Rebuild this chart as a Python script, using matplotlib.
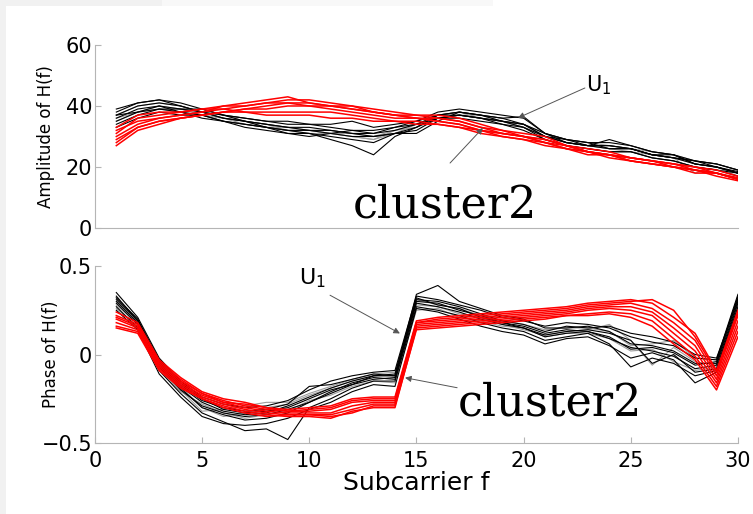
import numpy as np
import matplotlib
matplotlib.use('Agg')
import matplotlib.pyplot as plt
from matplotlib import patches

plt.rcParams.update({
    'font.family': 'DejaVu Sans',
    'axes.linewidth': 0.8,
    'xtick.direction': 'in',
    'ytick.direction': 'in',
})

subcarrier = list(range(1, 31))

# amplitude, cluster 1 (black)
amp_black = [
    [38, 41, 42, 41, 39, 37, 36, 35, 34, 34, 33, 32, 31, 33, 35, 38, 39, 38, 37, 36, 31, 29, 28, 28, 27, 25, 24, 22, 21, 19],
    [35, 38, 40, 38, 37, 35, 34, 33, 32, 31, 30, 29, 28, 31, 33, 37, 38, 37, 35, 34, 30, 28, 27, 26, 26, 24, 23, 21, 20, 18],
    [37, 40, 41, 40, 38, 37, 36, 35, 35, 34, 34, 35, 33, 34, 35, 37, 37, 36, 35, 33, 30, 28, 27, 29, 27, 25, 24, 21, 20, 18],
    [34, 37, 39, 38, 36, 35, 34, 33, 31, 31, 29, 27, 24, 30, 33, 36, 37, 36, 34, 33, 29, 27, 26, 25, 25, 23, 22, 20, 19, 17],
    [36, 39, 40, 39, 38, 36, 35, 34, 33, 32, 32, 31, 31, 32, 34, 37, 38, 37, 36, 36.5, 31, 28, 27, 27, 26, 24, 24, 21, 20, 18.5],
    [39, 41, 42, 40, 38, 36, 35, 33, 32, 32, 31, 30, 30, 31, 32, 36, 37, 36, 35, 34, 30, 29, 28, 26, 26, 24, 23, 22, 21, 19],
    [33, 36, 38, 37, 37, 35, 33, 32, 31, 30, 31, 32, 32, 33, 34, 36, 36, 35, 34, 32, 29, 27, 26, 25, 25, 23, 22, 20, 19, 18],
    [37, 38, 39, 39, 39, 37, 35, 34, 33, 33, 32, 31, 30, 31, 31, 35, 38, 37, 36, 34, 31, 29, 27, 27, 26, 24, 23, 22, 20, 18],
]
amp_gray = [
    [35, 38, 40, 39, 37, 36, 34, 33, 32, 31, 31, 30, 29, 31, 34, 36, 37, 37, 35, 33, 30, 28, 27, 26, 25, 24, 23, 18, 20, 17],
    [37, 40, 41, 40, 38, 37, 35, 34, 32, 32, 31, 30, 29, 32, 33, 37, 38, 36, 35, 34, 31, 29, 28, 27, 26, 25, 24, 22, 21, 19],
    [36, 38, 39, 38, 37, 36, 35, 33, 33, 32, 31, 31, 30, 32, 34, 36, 37, 36, 35, 33, 30, 28, 27, 26, 26, 24, 23, 21, 20, 18],
]
# amplitude, cluster 2 (red)
amp_red = [
    [27, 32, 34, 36, 37, 38, 39, 40, 41, 41, 40, 40, 38, 37, 37, 36, 35, 33, 31, 30, 29, 27, 25, 24, 23, 22, 21, 20, 18, 16],
    [30, 34, 36, 37, 38, 39, 40, 41, 42, 42, 41, 40, 39, 38, 37, 37, 36, 34, 32, 31, 30, 27, 26, 25, 23, 22, 21, 20, 19, 17],
    [32, 35, 36, 37, 38, 40, 41, 42, 43, 41, 40, 39, 38, 37, 36, 35, 34, 32, 31, 30, 28, 26, 25, 24, 22, 21, 20, 19, 18, 16],
    [29, 33, 35, 36, 37, 38, 38, 38, 38, 38, 38, 37, 36, 35, 34, 34, 33, 31, 30, 29, 28, 26, 24, 24, 22, 21, 20, 18, 18, 16],
    [31, 36, 37, 38, 39, 39, 38, 37, 37, 37, 36, 36, 35, 35, 35, 34, 33, 32, 30, 29, 27, 26, 25, 23, 22, 21, 20, 19, 17, 15.5],
    [28, 33, 35, 36, 37, 38, 39, 39, 40, 40, 39, 38, 37, 36, 36, 36, 35, 33, 32, 30, 29, 27, 25, 24, 23, 22, 21, 19, 18, 16.5],
    [33, 37, 38, 38, 39, 40, 40, 41, 41, 40, 40, 39, 38, 37, 36, 35, 34, 32, 31, 30, 28, 27, 25, 24, 23, 22, 20, 19, 18, 16],
]

# phase, cluster 1 (black)
ph_black = [
    [.35, .21, -.02, -.15, -.24, -.28, -.30, -.29, -.26, -.20, -.15, -.12, -.10, -.09, .33, .31, .28, .25, .21, .19, .16, .18, .17, .15, .10, .07, .05, -.02, -.03, .34],
    [.30, .18, -.06, -.19, -.30, -.34, -.37, -.36, -.33, -.27, -.22, -.17, -.14, -.13, .30, .29, .25, .22, .18, .15, .10, .12, .13, .09, .04, .02, -.01, -.08, -.06, .30],
    [.27, .15, -.09, -.22, -.33, -.38, -.43, -.42, -.48, -.30, -.25, -.19, -.15, -.15, .27, .25, .22, .18, .15, .13, .08, .10, .12, .06, -.07, -.02, -.05, -.12, -.09, .27],
    [.32, .20, -.04, -.17, -.26, -.30, -.32, -.31, -.28, -.18, -.17, -.14, -.11, -.12, .34, .39, .30, .26, .22, .20, .15, .15, .16, .13, .06, .05, .02, -.05, -.05, .32],
    [.29, .17, -.07, -.20, -.29, -.33, -.35, -.34, -.31, -.27, -.21, -.16, -.13, -.14, .29, .27, .24, .20, .17, .15, .11, .13, .14, .12, .08, -.05, .00, -.10, -.08, .29],
    [.25, .14, -.11, -.24, -.35, -.39, -.40, -.39, -.36, -.31, -.27, -.21, -.17, -.18, .26, .24, .20, .16, .13, .11, .06, .09, .10, .05, -.02, .01, -.03, -.16, -.10, .25],
    [.33, .19, -.03, -.16, -.25, -.31, -.33, -.32, -.30, -.25, -.20, -.17, -.12, -.11, .31, .30, .27, .23, .19, .17, .13, .16, .15, .16, .12, .10, .07, .00, -.02, .31],
    [.31, .19, -.05, -.18, -.27, -.32, -.34, -.33, -.29, -.24, -.19, -.15, -.12, -.12, .32, .28, .26, .21, .18, .16, .12, .14, .13, .10, .03, .04, .01, -.06, -.04, .33],
]
ph_gray = [
    [.28, .17, -.05, -.18, -.30, -.35, -.33, -.30, -.28, -.23, -.19, -.15, -.12, -.12, .28, .27, .23, .21, .17, .14, .11, .13, .14, .17, .08, -.06, .04, -.04, -.06, .28],
    [.32, .20, -.03, -.20, -.32, -.31, -.29, -.27, -.27, -.22, -.18, -.14, -.11, -.10, .31, .28, .26, .22, .19, .17, .14, .15, .15, .13, .05, .06, .08, -.02, -.03, .31],
    [.26, .16, -.08, -.21, -.28, -.33, -.36, -.34, -.32, -.26, -.23, -.18, -.15, -.16, .25, .26, .21, .19, .16, .15, .10, .12, .12, .09, .02, .03, -.04, -.09, -.07, .26],
]
# phase, cluster 2 (red)
ph_red = [
    [.24, .18, -.03, -.13, -.21, -.25, -.27, -.30, -.31, -.30, -.29, -.25, -.24, -.24, .19, .21, .22, .23, .24, .25, .26, .27, .29, .30, .31, .29, .21, .12, -.09, .25],
    [.22, .17, -.05, -.15, -.22, -.26, -.29, -.31, -.32, -.32, -.31, -.27, -.26, -.26, .18, .19, .20, .21, .22, .23, .24, .25, .27, .28, .29, .26, .18, .08, -.12, .22],
    [.20, .15, -.06, -.16, -.23, -.27, -.30, -.32, -.33, -.33, -.33, -.29, -.27, -.27, .17, .18, .19, .20, .21, .22, .23, .24, .26, .27, .27, .24, .15, .05, -.14, .19],
    [.18, .14, -.07, -.17, -.24, -.28, -.31, -.33, -.34, -.34, -.34, -.31, -.28, -.28, .16, .17, .18, .19, .20, .21, .22, .23, .25, .26, .25, .22, .12, .02, -.16, .16],
    [.16, .13, -.08, -.18, -.25, -.29, -.32, -.34, -.35, -.35, -.36, -.32, -.30, -.30, .15, .16, .17, .18, .19, .20, .21, .22, .23, .24, .23, .19, .09, -.01, -.18, .13],
    [.21, .16, -.04, -.14, -.22, -.27, -.28, -.30, -.32, -.31, -.30, -.26, -.25, -.25, .18, .20, .21, .22, .23, .24, .25, .26, .28, .29, .30, .31, .25, .10, -.10, .23],
    [.15, .12, -.09, -.19, -.25, -.30, -.33, -.35, -.34, -.34, -.35, -.33, -.29, -.29, .14, .15, .16, .17, .18, .19, .20, .22, .22, .23, .21, .16, .06, -.03, -.20, .10],
]

amp_ticks = [0, 20, 40, 60]
ph_ticks = [-0.5, 0, 0.5]
ph_ticklabels = ['\u22120.5', '0', '0.5']
f_ticks = [0, 5, 10, 15, 20, 25, 30]

fig = plt.figure(figsize=(7.53, 5.14), dpi=100)
fig.patch.set_facecolor('white')
# light screenshot border
fig.patches.append(patches.Rectangle((0, 0), 0.008, 1, transform=fig.transFigure,
                                     facecolor='#f1f1f1', edgecolor='none'))
fig.patches.append(patches.Rectangle((0, 0.988), 0.215, 0.012, transform=fig.transFigure,
                                     facecolor='#f1f1f1', edgecolor='none'))
fig.patches.append(patches.Rectangle((0.215, 0.988), 0.44, 0.012, transform=fig.transFigure,
                                     facecolor='#f8f8f8', edgecolor='none'))

ax1 = fig.add_axes([0.126, 0.5564, 0.854, 0.3561])
ax2 = fig.add_axes([0.126, 0.138, 0.854, 0.3445])

spine_c = '#b5b5b5'


def style(ax):
    for s in ['top', 'right']:
        ax.spines[s].set_visible(False)
    for s in ['left', 'bottom']:
        ax.spines[s].set_color(spine_c)
    ax.tick_params(colors=spine_c, labelcolor='black', labelsize=15, length=4, width=0.8)
    ax.set_xlim(0, 30)


def draw(ax, gray, black, red):
    for y in gray:
        ax.plot(subcarrier, y, color='#9c9c9c', lw=0.8)
    for y in black:
        ax.plot(subcarrier, y, color='black', lw=0.8)
    for y in red:
        ax.plot(subcarrier, y, color='#ff0000', lw=1.1)


draw(ax1, amp_gray, amp_black, amp_red)
style(ax1)
ax1.set_ylim(0, 60)
ax1.set_yticks(amp_ticks)
ax1.set_xticks([])
ax1.tick_params(axis='y', pad=2)
ax1.set_ylabel('Amplitude of H(f)', fontsize=12)
ax1.yaxis.set_label_coords(-0.062, 0.5)

draw(ax2, ph_gray, ph_black, ph_red)
style(ax2)
ax2.set_ylim(-0.5, 0.5)
ax2.set_yticks(ph_ticks)
ax2.set_yticklabels(ph_ticklabels)
ax2.set_xticks(f_ticks)
ax2.tick_params(axis='y', pad=2)
ax2.tick_params(axis='x', pad=6)
ax2.set_ylabel('Phase of H(f)', fontsize=12)
ax2.yaxis.set_label_coords(-0.055, 0.5)
ax2.set_xlabel('Subcarrier f', fontsize=18, labelpad=0)

arrow = dict(arrowstyle='-|>', color='#555555', lw=0.7, mutation_scale=9,
             shrinkA=0, shrinkB=0)

# top annotations
ax1.annotate('', xy=(19.74, 36.1), xytext=(22.86, 45.9), arrowprops=arrow)
ax1.text(22.9, 46.8, 'U$_1$', fontsize=15, ha='left', va='center')
ax1.annotate('', xy=(18.1, 32.8), xytext=(16.57, 21.3), arrowprops=arrow)
ax1.text(12.05, 3.3, 'cluster2', fontsize=32, family='DejaVu Serif',
         ha='left', va='baseline')

# bottom annotations
ax2.annotate('', xy=(14.23, 0.119), xytext=(10.97, 0.335), arrowprops=arrow)
ax2.text(9.5, 0.43, 'U$_1$', fontsize=16, ha='left', va='center')
ax2.annotate('', xy=(14.47, -0.131), xytext=(16.9, -0.1875), arrowprops=arrow)
ax2.text(16.95, -0.347, 'cluster2', fontsize=32, family='DejaVu Serif',
         ha='left', va='baseline', clip_on=False)

fig.savefig('out.png', dpi=100, facecolor=fig.get_facecolor())
